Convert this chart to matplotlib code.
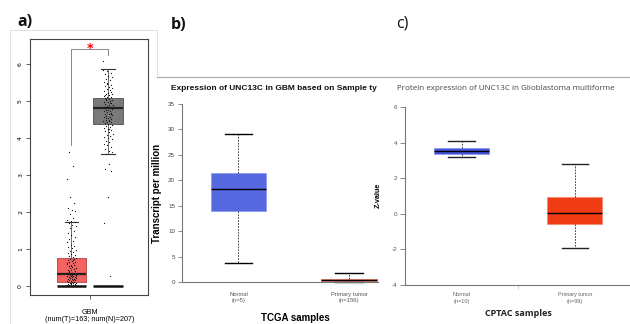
import matplotlib
matplotlib.use("Agg")
import matplotlib.pyplot as plt
from matplotlib import font_manager as fm
from matplotlib.lines import Line2D
import numpy as np

# ---------------- data ----------------
# panel a (GEPIA, log2(TPM+1))
a_groups = ["Tumor", "Normal"]
a_xlabel = "GBM\n(num(T)=163; num(N)=207)"
a_q1 = [0.10, 4.38]
a_med = [0.33, 4.82]
a_q3 = [0.77, 5.07]
a_whislo = [0.0, 3.57]
a_whishi = [1.73, 5.86]
a_zero_bars = [0.0, 0.0]
a_tumor_points = [0.02, 0.03, 0.04, 0.05, 0.05, 0.06, 0.07, 0.08, 0.09, 0.10, 0.11, 0.12,
                  0.13, 0.14, 0.15, 0.16, 0.17, 0.18, 0.19, 0.20, 0.21, 0.22, 0.23, 0.24,
                  0.25, 0.26, 0.27, 0.28, 0.29, 0.30, 0.31, 0.32, 0.33, 0.34, 0.35, 0.36,
                  0.38, 0.40, 0.42, 0.44, 0.46, 0.48, 0.50, 0.52, 0.54, 0.56, 0.58, 0.60,
                  0.62, 0.64, 0.66, 0.68, 0.70, 0.72, 0.74, 0.76, 0.78, 0.80, 0.83, 0.86,
                  0.88, 0.91, 0.95, 0.98, 1.02, 1.05, 1.08, 1.12, 1.18, 1.22, 1.27, 1.33,
                  1.38, 1.42, 1.50, 1.56, 1.62, 1.66, 1.70, 1.72, 1.75, 1.78, 1.85, 1.95,
                  2.02, 2.06, 2.10, 2.24, 2.40, 2.90, 3.25, 3.62,
                  0.04, 0.07, 0.12, 0.18, 0.22, 0.28, 0.35, 0.41, 0.47, 0.55, 0.63, 0.71]
a_normal_points = [6.09, 3.30, 3.15, 3.10, 2.40, 1.71, 0.27,
                   3.58, 3.62, 3.66, 3.70, 3.75, 3.80, 3.84, 3.88, 3.92, 3.96, 4.00, 4.03,
                   4.06, 4.09, 4.12, 4.15, 4.18, 4.21, 4.24, 4.27, 4.30, 4.33, 4.36, 4.38,
                   4.40, 4.42, 4.44, 4.46, 4.48, 4.50, 4.52, 4.54, 4.56, 4.58, 4.60, 4.62,
                   4.64, 4.66, 4.68, 4.70, 4.72, 4.74, 4.76, 4.78, 4.80, 4.82, 4.84, 4.86,
                   4.88, 4.90, 4.92, 4.94, 4.96, 4.98, 5.00, 5.02, 5.04, 5.06, 5.08, 5.10,
                   5.12, 5.14, 5.16, 5.18, 5.20, 5.23, 5.26, 5.29, 5.32, 5.35, 5.38, 5.41,
                   5.44, 5.48, 5.52, 5.56, 5.60, 5.64, 5.68, 5.72, 5.76, 5.80, 5.84,
                   4.45, 4.55, 4.65, 4.75, 4.85, 4.95, 5.05, 4.35, 4.25, 5.15, 5.25, 5.45]
a_yticks = [0, 1, 2, 3, 4, 5, 6]

# panel b (UALCAN TCGA)
b_title = "Expression of UNC13C in GBM based on Sample ty"
b_labels = ["Normal\n(n=5)", "Primary tumor\n(n=156)"]
b_q1 = [13.9, 0.10]
b_med = [18.2, 0.30]
b_q3 = [21.5, 0.62]
b_whislo = [3.7, 0.0]
b_whishi = [29.1, 1.8]
b_yticks = [0, 5, 10, 15, 20, 25, 30, 35]

# panel c (UALCAN CPTAC)
c_title = "Protein expression of UNC13C in Glioblastoma multiforme"
c_labels = ["Normal\n(n=10)", "Primary tumor\n(n=99)"]
c_q1 = [3.35, -0.60]
c_med = [3.55, 0.05]
c_q3 = [3.72, 0.95]
c_whislo = [3.20, -1.90]
c_whishi = [4.10, 2.82]
c_yticks = [-4, -2, 0, 2, 4, 6]

# ---------------- fonts ----------------
names = {f.name for f in fm.fontManager.ttflist}
narrow = "Liberation Sans Narrow" if "Liberation Sans Narrow" in names else "Liberation Sans"
plt.rcParams["font.family"] = [narrow, "DejaVu Sans"]

W, H = 630, 324
fig = plt.figure(figsize=(6.3, 3.24), dpi=100)


def px_axes(l, t, r, b):
    return fig.add_axes([l / W, 1 - b / H, (r - l) / W, (b - t) / H])


def ftext(x, y, s, **kw):
    fig.text(x / W, 1 - y / H, s, **kw)


def stats(q1, med, q3, lo, hi):
    return [dict(q1=q1[i], med=med[i], q3=q3[i], whislo=lo[i], whishi=hi[i], fliers=[])
            for i in range(len(q1))]


# ---------------- frame lines ----------------
frame = fig.add_axes([0, 0, 1, 1], zorder=-5)
frame.set_xlim(0, W)
frame.set_ylim(H, 0)
frame.axis("off")
frame.add_line(Line2D([10, 10, 157, 157], [324, 30, 30, 77], color="#e2e2e2", lw=0.8))
frame.add_line(Line2D([157, 630], [77, 77], color="#a8a8a8", lw=0.8))

# ---------------- panel a ----------------
ax = px_axes(30, 39, 148, 295)
ax.set_xlim(-0.137, 3.096)
ax.set_ylim(-0.243, 6.676)
pos_a = [1, 2]
bp = ax.bxp(stats(a_q1, a_med, a_q3, a_whislo, a_whishi), positions=pos_a, widths=0.8,
            patch_artist=True, showfliers=False, capwidths=0.38,
            medianprops=dict(color="#222222", lw=1.6),
            whiskerprops=dict(color="#333333", lw=0.5),
            capprops=dict(color="#333333", lw=0.8),
            boxprops=dict(lw=0.6))
bp["boxes"][0].set_facecolor("#f46262")
bp["boxes"][0].set_edgecolor("#b04040")
bp["boxes"][1].set_facecolor("#7a7a7a")
bp["boxes"][1].set_edgecolor("#505050")
ax.hlines(a_zero_bars, [p - 0.4 for p in pos_a], [p + 0.4 for p in pos_a],
          color="#111111", lw=1.8, zorder=4)
gr = 0.6180339887
for p, vals in zip(pos_a, [a_tumor_points, a_normal_points]):
    jit = [((i * gr) % 1 - 0.5) * 0.26 for i in range(len(vals))]
    ax.scatter([p + j for j in jit], vals, s=0.8, color="#111111", zorder=5, lw=0)
# significance bracket
ax.plot([1, 1, 2, 2], [3.8, 6.41, 6.41, 6.24], color="#888888", lw=0.7)
ax.text(1.5, 6.41, "*", color="red", ha="center", va="center", fontsize=9,
        fontweight="bold", family="DejaVu Sans", zorder=6)
ax.set_yticks(a_yticks)
ax.set_yticklabels([str(t) for t in a_yticks], rotation=90, va="center", fontsize=4.5,
                   family="DejaVu Sans")
ax.set_xticks([1.5])
ax.set_xticklabels([a_xlabel], fontsize=5.2, linespacing=1.1)
ax.tick_params(axis="y", length=3, width=0.6, color="#444444", pad=2)
ax.tick_params(axis="x", length=3, width=0.6, color="#444444", pad=7)
for s in ax.spines.values():
    s.set_color("#444444")
    s.set_linewidth(0.8)
ftext(17, 22, "a)", fontsize=11.5, family=["Open Sans", "DejaVu Sans"], va="center",
      fontweight="bold", color="#111111")

# ---------------- panel b ----------------
ax = px_axes(182, 100, 378, 286)
ax.set_xlim(0.489, 2.262)
ax.set_ylim(-0.79, 35.79)
bp = ax.bxp(stats(b_q1, b_med, b_q3, b_whislo, b_whishi), positions=[1, 2], widths=0.5,
            patch_artist=True, showfliers=False, capwidths=0.245,
            medianprops=dict(color="black", lw=1.0),
            whiskerprops=dict(color="#222222", lw=0.6, ls=(0, (2, 1.5))),
            capprops=dict(color="black", lw=1.0),
            boxprops=dict(lw=0.6))
bp["boxes"][0].set_facecolor("#5568e0")
bp["boxes"][0].set_edgecolor("#8f9cf0")
bp["boxes"][1].set_facecolor("#e8401c")
bp["boxes"][1].set_edgecolor("#f08070")
for s in ["top", "right"]:
    ax.spines[s].set_visible(False)
ax.spines["left"].set_bounds(0, 35)
ax.spines["bottom"].set_position(("data", 0))
for s in ["left", "bottom"]:
    ax.spines[s].set_color("#777777")
    ax.spines[s].set_linewidth(0.8)
ax.set_yticks(b_yticks)
ax.set_yticklabels([str(t) for t in b_yticks], fontsize=4.5, color="#444444")
ax.tick_params(axis="y", length=3, width=0.6, color="#777777", pad=2)
ax.set_xticks([1, 2])
ax.set_xticklabels(b_labels, fontsize=4.2, color="#555555", linespacing=1.3)
ax.tick_params(axis="x", length=0, pad=7)
ax.set_ylabel("Transcript per million", fontsize=7, fontweight="bold", labelpad=4)
ftext(295, 318, "TCGA samples", fontsize=7, fontweight="bold", ha="center", va="center")
ftext(273.5, 89, b_title, fontsize=6.0, fontweight="bold", ha="center", va="center",
      color="#111111")
ftext(171, 25, "b)", fontsize=11.5, family=["Open Sans", "DejaVu Sans"], va="center",
      fontweight="bold", color="#111111")

# ---------------- panel c ----------------
ax = px_axes(405, 103, 630, 288)
ax.set_xlim(0.502, 2.485)
ax.set_ylim(-4.169, 6.225)
bp = ax.bxp(stats(c_q1, c_med, c_q3, c_whislo, c_whishi), positions=[1, 2], widths=0.485,
            patch_artist=True, showfliers=False, capwidths=0.23,
            medianprops=dict(color="black", lw=1.0),
            whiskerprops=dict(color="#222222", lw=0.6, ls=(0, (2, 1.5))),
            capprops=dict(color="#222222", lw=1.0),
            boxprops=dict(lw=0.6))
bp["boxes"][0].set_facecolor("#4552da")
bp["boxes"][0].set_edgecolor("#8f98f0")
bp["boxes"][1].set_facecolor("#f03c14")
bp["boxes"][1].set_edgecolor("#f58a70")
for s in ["top", "right"]:
    ax.spines[s].set_visible(False)
ax.spines["left"].set_bounds(-4, 6)
ax.spines["bottom"].set_position(("data", -4))
for s in ["left", "bottom"]:
    ax.spines[s].set_color("#777777")
    ax.spines[s].set_linewidth(0.8)
ax.set_yticks(c_yticks)
ax.set_yticklabels([str(t) for t in c_yticks], fontsize=4.5, color="#555555")
ax.tick_params(axis="y", length=3.5, width=0.6, color="#777777", pad=2)
ax.set_xticks([1.5], minor=True)
ax.tick_params(axis="x", which="minor", length=3, width=0.5, color="#bbbbbb")
ax.set_xticks([1, 2])
ax.set_xticklabels(c_labels, fontsize=4.0, color="#666666", linespacing=1.4)
ax.tick_params(axis="x", which="major", length=0, pad=5)
ax.set_ylabel("Z-value", fontsize=5.2, fontweight="bold", labelpad=7)
ftext(518, 314, "CPTAC samples", fontsize=6.5, fontweight="bold", ha="center", va="center",
      family=["Open Sans", "DejaVu Sans"], color="#222222")
ftext(506, 88, c_title, fontsize=5.8, ha="center", va="center", color="#444444",
      family=["Open Sans", "DejaVu Sans"])
ftext(396, 24, "c)", fontsize=11.5, family=["Open Sans", "DejaVu Sans"], va="center",
      color="#111111")

fig.savefig("out.png", dpi=100)
